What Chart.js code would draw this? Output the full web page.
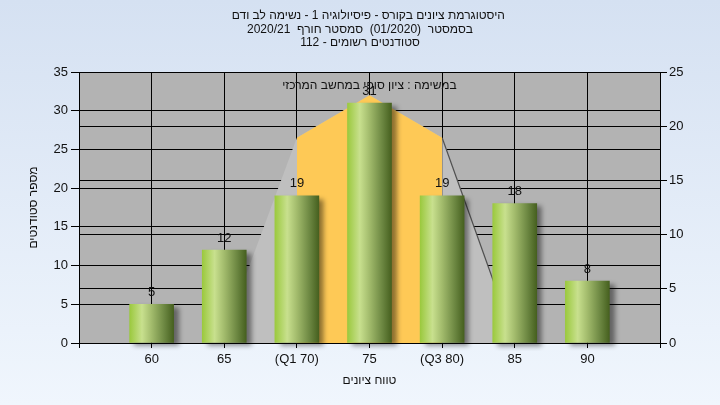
<!DOCTYPE html>
<html>
<head>
<meta charset="utf-8">
<script src="https://cdn.jsdelivr.net/npm/chart.js@4.4.1/dist/chart.umd.min.js"></script>
<style>
  html, body { margin: 0; padding: 0; }
  body { width: 720px; height: 405px; overflow: hidden; background: linear-gradient(to bottom, #d5e1f2, #f0f6fd); }
</style>
</head>
<body>
<canvas id="chart" width="720" height="405"></canvas>
<script>
// היסטוגרמת ציונים - נתונים
const titleLines = [
  '     היסטוגרמת ציונים בקורס - פיסיולוגיה 1 - נשימה לב ודם',
  'בסמסטר  (01/2020)  סמסטר חורף  2020/21',
  'סטודנטים רשומים - 112'
];
const caption = 'במשימה : ציון סופי במחשב המרכזי';
const scoreLabels = ['', '60', '65', '(Q1 70)', '75', '(Q3 80)', '85', '90', ''];
const studentCounts = [null, 5, 12, 19, 31, 19, 18, 8, null];
// עקומת ההתפלגות (אפור בצדדים, צהוב בין Q1 ל-Q3)
const curveSides = [null, null, 1.2, 26.5, 32, 26.5, 0.3, null, null];
const curveMiddle = [null, null, null, 26.5, 32, 26.5, null, null, null];
const leftTicks = [0, 5, 10, 15, 20, 25, 30, 35];
const rightTicks = [0, 5, 10, 15, 20, 25];

const font = "'Liberation Sans', Arial, 'DejaVu Sans', sans-serif";
Chart.defaults.font.family = font;
Chart.defaults.color = '#111';

// רקע אזור השרטוט
const plotBg = {
  id: 'plotBg',
  beforeDraw(chart) {
    const { ctx, chartArea: a } = chart;
    ctx.save();
    ctx.fillStyle = '#b3b3b3';
    ctx.fillRect(a.left, a.top, a.right - a.left, a.bottom - a.top);
    ctx.restore();
  }
};

// צל לעמודות
const barShadow = {
  id: 'barShadow',
  beforeDatasetDraw(chart, args) {
    if (args.meta.type !== 'bar') return;
    const ctx = chart.ctx;
    ctx.save();
    ctx.shadowColor = 'rgba(0,0,0,0.45)';
    ctx.shadowBlur = 5;
    ctx.shadowOffsetX = 5;
    ctx.shadowOffsetY = 3;
  },
  afterDatasetDraw(chart, args) {
    if (args.meta.type !== 'bar') return;
    chart.ctx.restore();
  }
};

// ערכים מעל העמודות + כיתוב בראש השרטוט
const valueLabels = {
  id: 'valueLabels',
  afterDatasetsDraw(chart) {
    const ctx = chart.ctx;
    const a = chart.chartArea;
    ctx.save();
    ctx.fillStyle = '#111';
    ctx.textAlign = 'center';
    ctx.textBaseline = 'middle';
    ctx.font = '12px ' + font;
    ctx.fillText(caption, (a.left + a.right) / 2, a.top + 14);
    ctx.font = '13px ' + font;
    const meta = chart.getDatasetMeta(0);
    meta.data.forEach((bar, i) => {
      const v = studentCounts[i];
      if (v == null) return;
      ctx.fillText(String(v), bar.x, bar.y - 12);
    });
    ctx.restore();
  }
};

function barGradient(c) {
  const chart = c.chart;
  if (!chart.chartArea) return '#8fb04a';
  const x = chart.scales.x.getPixelForValue(c.dataIndex);
  const g = chart.ctx.createLinearGradient(x - 22, 0, x + 22, 0);
  g.addColorStop(0, '#9bc93e');
  g.addColorStop(0.28, '#c8e08e');
  g.addColorStop(0.5, '#a2bb6c');
  g.addColorStop(0.8, '#6a8540');
  g.addColorStop(1, '#46601f');
  return g;
}

new Chart(document.getElementById('chart').getContext('2d'), {
  type: 'bar',
  data: {
    labels: scoreLabels,
    datasets: [
      {
        type: 'bar',
        data: studentCounts,
        backgroundColor: barGradient,
        borderWidth: 0,
        barThickness: 44,
        yAxisID: 'y',
        clip: 8,
        order: 0
      },
      {
        type: 'line',
        data: curveMiddle,
        backgroundColor: '#fec956',
        borderWidth: 0,
        pointRadius: 0,
        tension: 0,
        fill: 'origin',
        yAxisID: 'y',
        order: 1
      },
      {
        type: 'line',
        data: curveSides,
        backgroundColor: '#bfbfbf',
        borderWidth: 1.2,
        segment: {
          borderColor: c => c.p0DataIndex === 5 ? '#505050' : 'rgba(0,0,0,0)'
        },
        pointRadius: 0,
        tension: 0,
        fill: 'origin',
        yAxisID: 'y',
        order: 2
      }
    ]
  },
  options: {
    responsive: false,
    animation: false,
    layout: { padding: 0 },
    plugins: {
      legend: { display: false },
      tooltip: { enabled: false },
      title: {
        display: true,
        text: titleLines,
        color: '#111',
        font: { size: 12, weight: 'normal', lineHeight: 1.125 },
        padding: { top: 9, bottom: 22.5 }
      }
    },
    scales: {
      x: {
        type: 'category',
        offset: false,
        grid: { offset: false, color: '#000', lineWidth: 1, tickLength: 5 },
        border: { color: '#000' },
        ticks: { autoSkip: false, maxRotation: 0, padding: 4, font: { size: 13 }, color: '#111' },
        title: { display: true, text: 'טווח ציונים', font: { size: 12 }, color: '#111', padding: { top: 0, bottom: 17 } },
        afterFit: s => { s.height = 62; }
      },
      y: {
        position: 'left',
        min: 0,
        max: 35,
        afterBuildTicks: s => { s.ticks = leftTicks.map(v => ({ value: v })); },
        grid: { color: '#000', lineWidth: 1, tickLength: 8 },
        border: { color: '#000' },
        ticks: { padding: 3, font: { size: 13 }, color: '#111' },
        title: { display: true, text: 'מספר סטודנטים', font: { size: 12 }, color: '#111', padding: { top: 26, bottom: 0 } },
        afterFit: s => { s.width = 79; }
      },
      y2: {
        position: 'right',
        min: 0,
        max: 25,
        afterBuildTicks: s => { s.ticks = rightTicks.map(v => ({ value: v })); },
        grid: { color: '#000', lineWidth: 1, tickLength: 7 },
        border: { color: '#000' },
        ticks: { padding: 2, font: { size: 13 }, color: '#111' },
        afterFit: s => { s.width = 60; }
      }
    }
  },
  plugins: [plotBg, barShadow, valueLabels]
});
</script>
</body>
</html>
